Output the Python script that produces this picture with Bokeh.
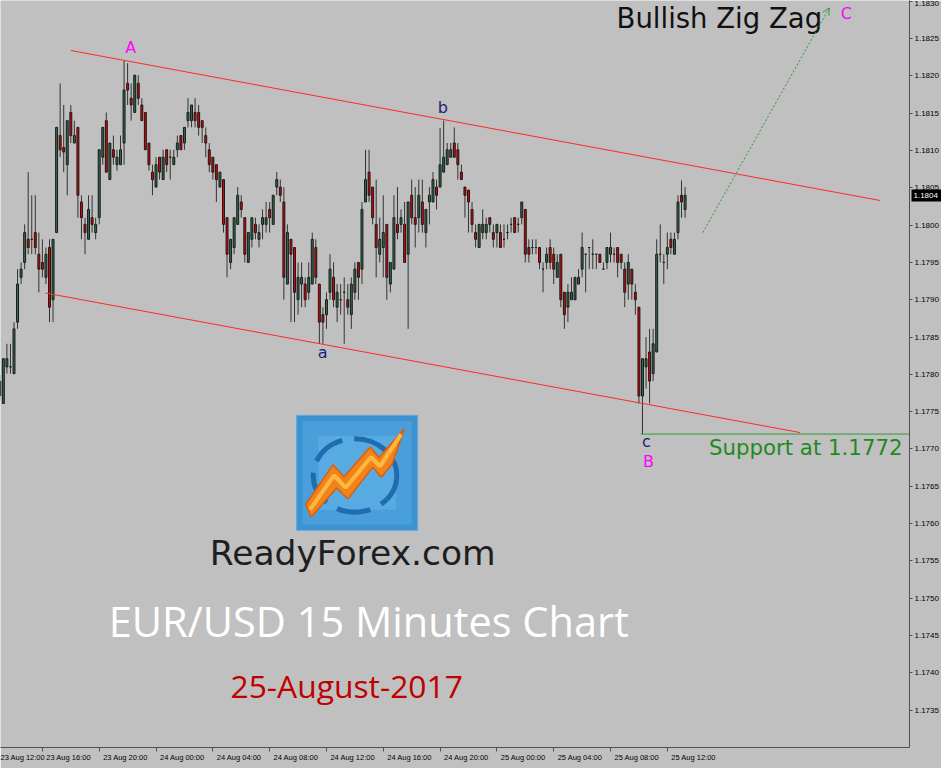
from bokeh.plotting import figure
from bokeh.models import (Range1d, FixedTicker, ColumnDataSource, LinearAxis,
                          Arrow, OpenHead, NumeralTickFormatter)
from bokeh.core.properties import value
from bokeh.embed import file_html
from bokeh.resources import INLINE

# ---------------- data: EUR/USD 15-minute candles (23 Aug 13:00 -> 25 Aug 13:15) -------------
O = [1.17771,1.17761,1.17810,1.17810,1.17801,1.17870,1.17930,1.17950,1.17981,1.17981,
     1.17990,1.17961,1.17950,1.17930,1.17970,1.17900,1.17990,1.18120,1.18104,1.18081,
     1.18151,1.18110,1.18131,1.18031,1.18001,1.17981,1.18010,1.17990,1.18010,1.18091,
     1.18140,1.18061,1.18101,1.18081,1.18081,1.18110,1.18190,1.18170,1.18151,1.18190,
     1.18161,1.18151,1.18110,1.18071,1.18051,1.18091,1.18061,1.18101,1.18091,1.18081,
     1.18101,1.18120,1.18110,1.18140,1.18140,1.18151,1.18151,1.18140,1.18120,1.18101,
     1.18091,1.18081,1.18051,1.18061,1.18010,1.17950,1.17970,1.18001,1.18031,1.18010,
     1.17950,1.17981,1.18001,1.17981,1.18001,1.18001,1.18021,1.18001,1.18051,1.18051,
     1.18031,1.17921,1.17981,1.17970,1.17900,1.17921,1.17921,1.17910,1.17921,1.17970,
     1.17921,1.17880,1.17880,1.17910,1.17930,1.17890,1.17900,1.17910,1.17900,1.17880,
     1.17910,1.17950,1.17941,1.18031,1.18071,1.18051,1.18001,1.17961,1.17970,1.18001,
     1.17921,1.17941,1.18001,1.18001,1.18001,1.17961,1.18040,1.18010,1.18010,1.18031,
     1.17990,1.18031,1.18031,1.18051,1.18051,1.18071,1.18081,1.18091,1.18110,1.18101,
     1.18071,1.18051,1.18047,1.18021,1.17990,1.17970,1.17990,1.17990,1.18010,1.17990,
     1.17990,1.17990,1.17981,1.17990,1.18001,1.18010,1.18001,1.18010,1.18021,1.17970,
     1.17970,1.17970,1.17970,1.17941,1.17950,1.17970,1.17961,1.17930,1.17961,1.17910,
     1.17890,1.17900,1.17900,1.17921,1.17941,1.17961,1.17970,1.17961,1.17961,1.17961,
     1.17941,1.17950,1.17961,1.17961,1.17970,1.17961,1.17941,1.17921,1.17941,1.17910,
     1.17890,1.17771,1.17810,1.17830,1.17801,1.17830,1.17961,1.17950,1.17961,1.17981,
     1.17961,1.17990,1.18040,1.18021]

H = [1.17799,1.17821,1.17841,1.17841,1.17870,1.17941,1.17950,1.18001,1.18071,1.18040,
     1.18040,1.17990,1.17981,1.17970,1.17981,1.17981,1.18131,1.18190,1.18161,1.18140,
     1.18161,1.18140,1.18131,1.18040,1.18010,1.18040,1.18040,1.18010,1.18101,1.18131,
     1.18151,1.18110,1.18120,1.18101,1.18120,1.18221,1.18217,1.18190,1.18201,1.18201,
     1.18170,1.18151,1.18110,1.18081,1.18091,1.18091,1.18101,1.18101,1.18101,1.18101,
     1.18120,1.18120,1.18131,1.18170,1.18161,1.18170,1.18161,1.18140,1.18131,1.18110,
     1.18091,1.18081,1.18071,1.18061,1.18010,1.17981,1.18010,1.18051,1.18040,1.18010,
     1.17990,1.18010,1.18010,1.18001,1.18021,1.18031,1.18031,1.18040,1.18071,1.18061,
     1.18051,1.18001,1.17981,1.17970,1.17950,1.17950,1.17930,1.17950,1.17990,1.17981,
     1.17921,1.17890,1.17910,1.17961,1.17950,1.17921,1.17921,1.17930,1.17921,1.17930,
     1.17950,1.17950,1.18031,1.18101,1.18101,1.18051,1.18061,1.18010,1.18040,1.18001,
     1.17950,1.18040,1.18051,1.18021,1.18031,1.18031,1.18061,1.18051,1.18061,1.18061,
     1.18021,1.18051,1.18071,1.18061,1.18130,1.18140,1.18110,1.18110,1.18131,1.18110,
     1.18081,1.18051,1.18047,1.18031,1.18001,1.18001,1.18021,1.18010,1.18010,1.18001,
     1.18001,1.18001,1.18001,1.18001,1.18010,1.18010,1.18010,1.18031,1.18021,1.17981,
     1.17981,1.17981,1.17970,1.17950,1.17970,1.17981,1.17970,1.17961,1.17961,1.17910,
     1.17921,1.17930,1.17930,1.17941,1.17990,1.17961,1.17970,1.17981,1.17961,1.17961,
     1.17950,1.17970,1.17990,1.17970,1.17970,1.17961,1.17950,1.17961,1.17941,1.17921,
     1.17890,1.17821,1.17850,1.17861,1.17861,1.17981,1.18001,1.17961,1.17990,1.17990,
     1.17990,1.18040,1.18060,1.18051]

L = [1.17765,1.17761,1.17801,1.17801,1.17801,1.17861,1.17921,1.17941,1.17961,1.17961,
     1.17961,1.17910,1.17930,1.17921,1.17870,1.17870,1.17990,1.18091,1.18071,1.18040,
     1.18110,1.18110,1.18010,1.17981,1.17961,1.17981,1.17990,1.17981,1.18001,1.18081,
     1.18071,1.18061,1.18081,1.18073,1.18081,1.18081,1.18161,1.18140,1.18151,1.18161,
     1.18140,1.18101,1.18073,1.18040,1.18051,1.18061,1.18061,1.18071,1.18061,1.18081,
     1.18091,1.18101,1.18101,1.18131,1.18131,1.18131,1.18120,1.18110,1.18091,1.18071,
     1.18061,1.18031,1.18051,1.17990,1.17930,1.17941,1.17961,1.18001,1.18010,1.17950,
     1.17950,1.17970,1.17981,1.17970,1.17981,1.17990,1.17990,1.18001,1.18040,1.18031,
     1.17900,1.17921,1.17870,1.17870,1.17880,1.17890,1.17890,1.17900,1.17921,1.17921,
     1.17841,1.17841,1.17861,1.17900,1.17890,1.17870,1.17880,1.17841,1.17880,1.17861,
     1.17900,1.17900,1.17921,1.18031,1.18031,1.18001,1.17930,1.17950,1.17930,1.17900,
     1.17910,1.17941,1.17981,1.17990,1.17950,1.17861,1.18001,1.17970,1.17990,1.17990,
     1.17970,1.18001,1.18031,1.18021,1.18051,1.18071,1.18081,1.18091,1.18091,1.18061,
     1.18061,1.18010,1.17990,1.17990,1.17970,1.17970,1.17981,1.17981,1.17990,1.17970,
     1.17970,1.17970,1.17970,1.17981,1.17990,1.17990,1.17990,1.18001,1.17950,1.17950,
     1.17961,1.17961,1.17941,1.17910,1.17941,1.17941,1.17921,1.17930,1.17890,1.17861,
     1.17870,1.17900,1.17900,1.17921,1.17930,1.17910,1.17941,1.17941,1.17941,1.17950,
     1.17941,1.17941,1.17950,1.17950,1.17930,1.17941,1.17890,1.17900,1.17900,1.17880,
     1.17761,1.17720,1.17781,1.17761,1.17791,1.17830,1.17950,1.17921,1.17941,1.17961,
     1.17961,1.17981,1.18010,1.18010]

C = [1.17791,1.17821,1.17821,1.17810,1.17861,1.17921,1.17941,1.17990,1.17970,1.17981,
     1.17970,1.17941,1.17941,1.17961,1.17890,1.17981,1.18131,1.18101,1.18098,1.18140,
     1.18120,1.18120,1.18040,1.18010,1.17990,1.18021,1.18001,1.18001,1.18101,1.18131,
     1.18071,1.18110,1.18091,1.18091,1.18101,1.18181,1.18181,1.18161,1.18201,1.18170,
     1.18140,1.18101,1.18081,1.18061,1.18081,1.18071,1.18091,1.18081,1.18091,1.18091,
     1.18110,1.18101,1.18131,1.18151,1.18161,1.18140,1.18131,1.18131,1.18110,1.18081,
     1.18071,1.18061,1.18071,1.18001,1.17961,1.17981,1.18010,1.18040,1.18021,1.17961,
     1.17990,1.18010,1.17990,1.17990,1.18010,1.18010,1.18010,1.18040,1.18061,1.18040,
     1.17930,1.17990,1.17961,1.17910,1.17930,1.17930,1.17900,1.17930,1.17981,1.17930,
     1.17870,1.17870,1.17900,1.17941,1.17900,1.17910,1.17900,1.17910,1.17890,1.17921,
     1.17941,1.17930,1.18021,1.18061,1.18040,1.18010,1.17970,1.17981,1.17990,1.17930,
     1.17950,1.18010,1.17990,1.18010,1.17950,1.18031,1.18010,1.18001,1.18040,1.18001,
     1.18021,1.18040,1.18061,1.18040,1.18081,1.18091,1.18101,1.18101,1.18091,1.18081,
     1.18061,1.18040,1.18031,1.18001,1.17981,1.18001,1.18001,1.18001,1.18001,1.17981,
     1.18001,1.17970,1.17981,1.17990,1.18001,1.17990,1.18001,1.18031,1.17961,1.17961,
     1.17970,1.17970,1.17950,1.17941,1.17961,1.17950,1.17941,1.17950,1.17900,1.17880,
     1.17910,1.17910,1.17930,1.17930,1.17970,1.17961,1.17970,1.17961,1.17961,1.17950,
     1.17941,1.17970,1.17970,1.17961,1.17950,1.17950,1.17910,1.17950,1.17921,1.17900,
     1.17771,1.17821,1.17821,1.17791,1.17841,1.17961,1.17961,1.17950,1.17970,1.17970,
     1.17981,1.18031,1.18031,1.18040]

# time axis: bar index of each 4-hour tick and its label
x_tick_idx = [-4, 12, 28, 44, 60, 76, 92, 108, 124, 140, 156, 172, 188]
x_tick_lbl = ["23 Aug 12:00", "23 Aug 16:00", "23 Aug 20:00", "24 Aug 00:00", "24 Aug 04:00",
              "24 Aug 08:00", "24 Aug 12:00", "24 Aug 16:00", "24 Aug 20:00", "25 Aug 00:00",
              "25 Aug 04:00", "25 Aug 08:00", "25 Aug 12:00"]
y_ticks = [1.1735, 1.1740, 1.1745, 1.1750, 1.1755, 1.1760, 1.1765, 1.1770, 1.1775, 1.1780,
           1.1785, 1.1790, 1.1795, 1.1800, 1.1805, 1.1810, 1.1815, 1.1820, 1.1825, 1.1830]
last_price = 1.1804

# drawn analysis: channel lines (bar index, price), support, projection
upper_x = [20.0, 247.9]
upper_y = [1.18234, 1.18033]
lower_x = [12.9, 225.4]
lower_y = [1.17909, 1.17722]
support_x = [180.5, 256.2]
support_y = [1.1772, 1.1772]
proj_x = [198.0, 233.6]
proj_y = [1.17990, 1.18291]

wave_t = ["A", "b", "a", "c", "B", "C"]
wave_x = [36.9, 124.8, 90.9, 182.1, 182.7, 238.4]
wave_y = [1.18238, 1.18157, 1.17829, 1.17710, 1.17683, 1.18284]

BG = "#C0C0C0"
GREEN = "#2E6E4E"
RED = "#E00000"

idx = list(range(len(O)))
top = [max(o, c) for o, c in zip(O, C)]
bot = [min(o, c) for o, c in zip(O, C)]
fill = [GREEN if c > o else (RED if c < o else BG) for o, c in zip(O, C)]
src = ColumnDataSource(dict(i=idx, o=O, h=H, l=L, c=C, top=top, bot=bot, fill=fill))

p = figure(width=941, height=768, x_range=Range1d(0.2, 256.2), y_range=Range1d(1.1730, 1.18301),
           y_axis_location="right", output_backend="svg", toolbar_location=None,
           min_border_left=0, min_border_top=0, min_border_right=0, min_border_bottom=21,
           background_fill_color=BG, border_fill_color=BG, outline_line_color=None)
p.grid.visible = False

# x axis: tick marks (minor) at the bar of each 4h mark, labels placed to its right
LBL_SHIFT = 7.4
lbl_pos = [t + LBL_SHIFT for t in x_tick_idx]
lbl_pos[0] = x_tick_idx[0] + 5.0   # first label sits at the left edge
p.xaxis.ticker = FixedTicker(ticks=lbl_pos, minor_ticks=x_tick_idx[1:])
p.xaxis.major_label_overrides = {pos: t for pos, t in zip(lbl_pos, x_tick_lbl)}
p.xaxis.major_label_text_font = "Liberation Sans"
p.xaxis.major_label_text_font_size = "7.5px"
p.xaxis.major_label_text_color = "black"
p.xaxis.major_label_standoff = 1
p.xaxis.major_tick_out = 4
p.xaxis.major_tick_in = 0
p.xaxis.major_tick_line_color = None
p.xaxis.minor_tick_out = 4
p.xaxis.minor_tick_in = 0
p.xaxis.minor_tick_line_color = "#505050"
p.xaxis.axis_line_color = "#505050"

p.yaxis.ticker = FixedTicker(ticks=y_ticks)
p.yaxis.formatter = NumeralTickFormatter(format="0.0000")
p.yaxis.major_label_text_font = "Liberation Sans"
p.yaxis.major_label_text_font_size = "8px"
p.yaxis.major_label_text_color = "black"
p.yaxis.major_tick_out = 3
p.yaxis.major_tick_in = 0
p.yaxis.major_label_standoff = 2
p.yaxis.minor_tick_line_color = None
p.yaxis.axis_line_color = "#505050"
p.yaxis.major_tick_line_color = "#505050"

# current price tag: a second right axis whose single thick tick forms the black box
tag = LinearAxis(ticker=FixedTicker(ticks=[last_price]), formatter=NumeralTickFormatter(format="0.0000"),
                 axis_line_color=None, major_tick_line_color="black", major_tick_line_width=12,
                 major_tick_in=30, major_tick_out=0, minor_tick_line_color=None,
                 major_label_standoff=-28, major_label_text_color="white",
                 major_label_text_font="Liberation Sans", major_label_text_font_size="8px")
p.add_layout(tag, "right")

# logo (decoration), drawn in fractions of its box
lx0, lx1, ly0, ly1 = 83.6, 117.7, 1.17591, 1.17745
def LX(f): return lx0 + f * (lx1 - lx0)
def LY(f): return ly0 + f * (ly1 - ly0)
p.quad(left=[lx0], right=[lx1], bottom=[ly0], top=[ly1], fill_color="#3C93D2", line_color="#5FA8DC")
p.quad(left=[LX(0.05)], right=[LX(0.95)], bottom=[LY(0.05)], top=[LY(0.95)],
       fill_color="#4A9FDB", line_color=None)
p.quad(left=[LX(0.18)], right=[LX(0.82)], bottom=[LY(0.18)], top=[LY(0.82)],
       fill_color="#58AAE2", line_color=None)
p.ellipse(x=[LX(0.482)], y=[LY(0.478)], width=[0.69 * (lx1 - lx0)], height=[0.64 * (ly1 - ly0)],
          fill_color=None, line_color="#1F6DB0", line_width=5, line_dash="34 12")
bolt_fx = [0.075, 0.300, 0.392, 0.607, 0.680, 0.890, 0.790, 0.700, 0.628, 0.424, 0.330, 0.120]
bolt_fy = [0.225, 0.570, 0.466, 0.725, 0.634, 0.885, 0.580, 0.462, 0.550, 0.272, 0.368, 0.115]
p.patch([LX(f) for f in bolt_fx], [LY(f) for f in bolt_fy],
        fill_color="#F2821A", line_color="#D8600C", line_width=1.5)
hl_fx = [0.110, 0.309, 0.405, 0.614, 0.689, 0.862]
hl_fy = [0.180, 0.478, 0.371, 0.638, 0.557, 0.835]
p.line([LX(f) for f in hl_fx], [LY(f) for f in hl_fy], line_color="#FFC24A", line_width=4,
       line_alpha=0.85)

# candles
p.segment(x0="i", y0="l", x1="i", y1="h", source=src, line_color="#333333", line_width=1)
p.vbar(x="i", width=0.55, top="top", bottom="bot", fill_color="fill", line_color="#1A1A1A",
       line_width=1, source=src)

# channel, support, projection
p.line(upper_x, upper_y, line_color="#FF2A2A", line_width=1)
p.line(lower_x, lower_y, line_color="#FF2A2A", line_width=1)
p.line(support_x, support_y, line_color="#2E9A2E", line_width=1)
p.add_layout(Arrow(end=OpenHead(size=7, line_color="#2E9A2E", line_width=1),
                   x_start=proj_x[0], y_start=proj_y[0], x_end=proj_x[1], y_end=proj_y[1],
                   line_color="#2E9A2E", line_width=1, line_dash="2 2"))

wave_col = ["#FF00FF", "#1C1C7A", "#1C1C7A", "#1C1C7A", "#FF00FF", "#FF00FF"]
p.text(x=wave_x, y=wave_y, text=wave_t, text_color=wave_col, text_font=value("DejaVu Sans"),
       text_font_size="16px", text_align="center", text_baseline="middle")

p.text(x=[173.7], y=[1.18277], text=["Bullish Zig Zag"], text_color="#111111",
       text_font=value("DejaVu Sans"), text_font_size="27.5px", text_align="left", text_baseline="middle")
p.text(x=[199.7], y=[1.17702], text=["Support at 1.1772"], text_color="#1E8A1E",
       text_font=value("DejaVu Sans"), text_font_size="21.3px", text_align="left", text_baseline="middle")
p.text(x=[99.4], y=[1.17560], text=["ReadyForex.com"], text_color="#1E1E1E",
       text_font=value("DejaVu Sans"), text_font_size="34.5px", text_align="center", text_baseline="middle")
p.text(x=[103.9], y=[1.17469], text=["EUR/USD 15 Minutes Chart"], text_color="white",
       text_font=value("Open Sans"), text_font_size="41.5px", text_align="center", text_baseline="middle")
p.text(x=[97.7], y=[1.17383], text=["25-August-2017"], text_color="#BF0000",
       text_font=value("Open Sans"), text_font_size="31.8px", text_align="center", text_baseline="middle")

open("out.html", "w").write(file_html(p, INLINE))
